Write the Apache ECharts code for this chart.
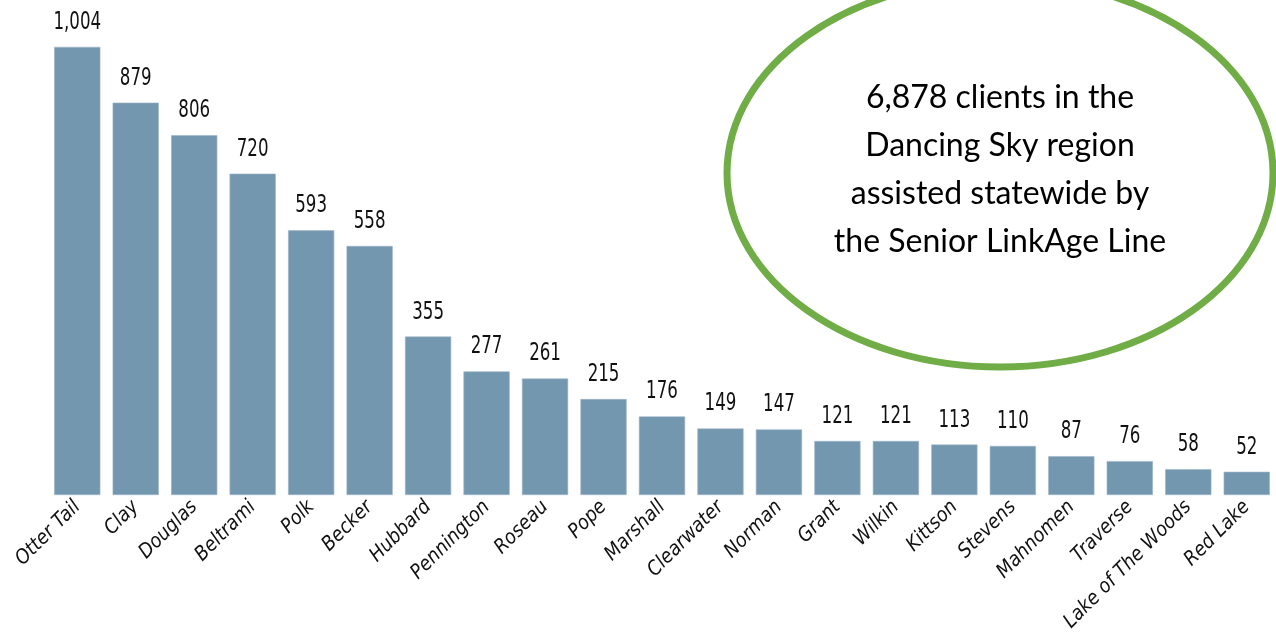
<!DOCTYPE html>
<html>
<head>
<meta charset="utf-8">
<script src="https://cdn.jsdelivr.net/npm/echarts@6/dist/echarts.min.js"></script>
<style>
html,body{margin:0;padding:0;background:#fff;}
#chart{width:1276px;height:635px;}
</style>
</head>
<body>
<div id="chart"></div>
<script>
const counties = ["Otter Tail","Clay","Douglas","Beltrami","Polk","Becker","Hubbard","Pennington","Roseau","Pope","Marshall","Clearwater","Norman","Grant","Wilkin","Kittson","Stevens","Mahnomen","Traverse","Lake of The Woods","Red Lake"];
const clients = [1004,879,806,720,593,558,355,277,261,215,176,149,147,121,121,113,110,87,76,58,52];
const calloutLines = ["6,878 clients in the","Dancing Sky region","assisted statewide by","the Senior LinkAge Line"];

const chart = echarts.init(document.getElementById('chart'));
chart.setOption({
  animation: false,
  backgroundColor: '#ffffff',
  grid: {left: 48, right: 0, top: 4, bottom: 140, containLabel: false},
  xAxis: {
    type: 'category',
    data: counties,
    axisLine: {show: false},
    axisTick: {show: false},
    axisLabel: {
      interval: 0,
      rotate: 45,
      margin: 9,
      fontFamily: '"DejaVu Sans Condensed","DejaVu Sans"',
      fontStyle: 'italic',
      fontSize: 20,
      color: '#111'
    }
  },
  yAxis: {
    type: 'value',
    min: 0, max: 1100,
    show: false,
    splitLine: {show: false}
  },
  series: [{
    type: 'bar',
    data: clients,
    barCategoryGap: '21%',
    itemStyle: {color: '#7497B0', borderColor: '#9db6c8', borderWidth: 0.6}
  }, {
    type: 'custom',
    data: clients.map((v, i) => [i, v]),
    encode: {x: 0, y: 1},
    z: 5,
    renderItem: function (params, api) {
      const pt = api.coord([api.value(0), api.value(1)]);
      return {
        type: 'text',
        x: pt[0], y: pt[1] - 12,
        scaleX: 0.74,
        style: {
          text: api.value(1).toLocaleString('en-US'),
          fontFamily: '"DejaVu Sans Condensed","DejaVu Sans"',
          fontSize: 25,
          fill: '#111',
          align: 'center',
          verticalAlign: 'bottom'
        }
      };
    }
  }],
  graphic: [
    {
      type: 'ellipse',
      shape: {cx: 1000, cy: 173, rx: 273, ry: 194},
      style: {fill: '#ffffff', stroke: '#70AD47', lineWidth: 7},
      z: 10
    },
    {
      type: 'text',
      x: 1000, y: 170,
      style: {
        text: calloutLines.join('\n'),
        fontFamily: 'Lato',
        fontSize: 32,
        lineHeight: 48,
        fill: '#000',
        align: 'center',
        verticalAlign: 'middle'
      },
      z: 11
    }
  ]
});
</script>
</body>
</html>
